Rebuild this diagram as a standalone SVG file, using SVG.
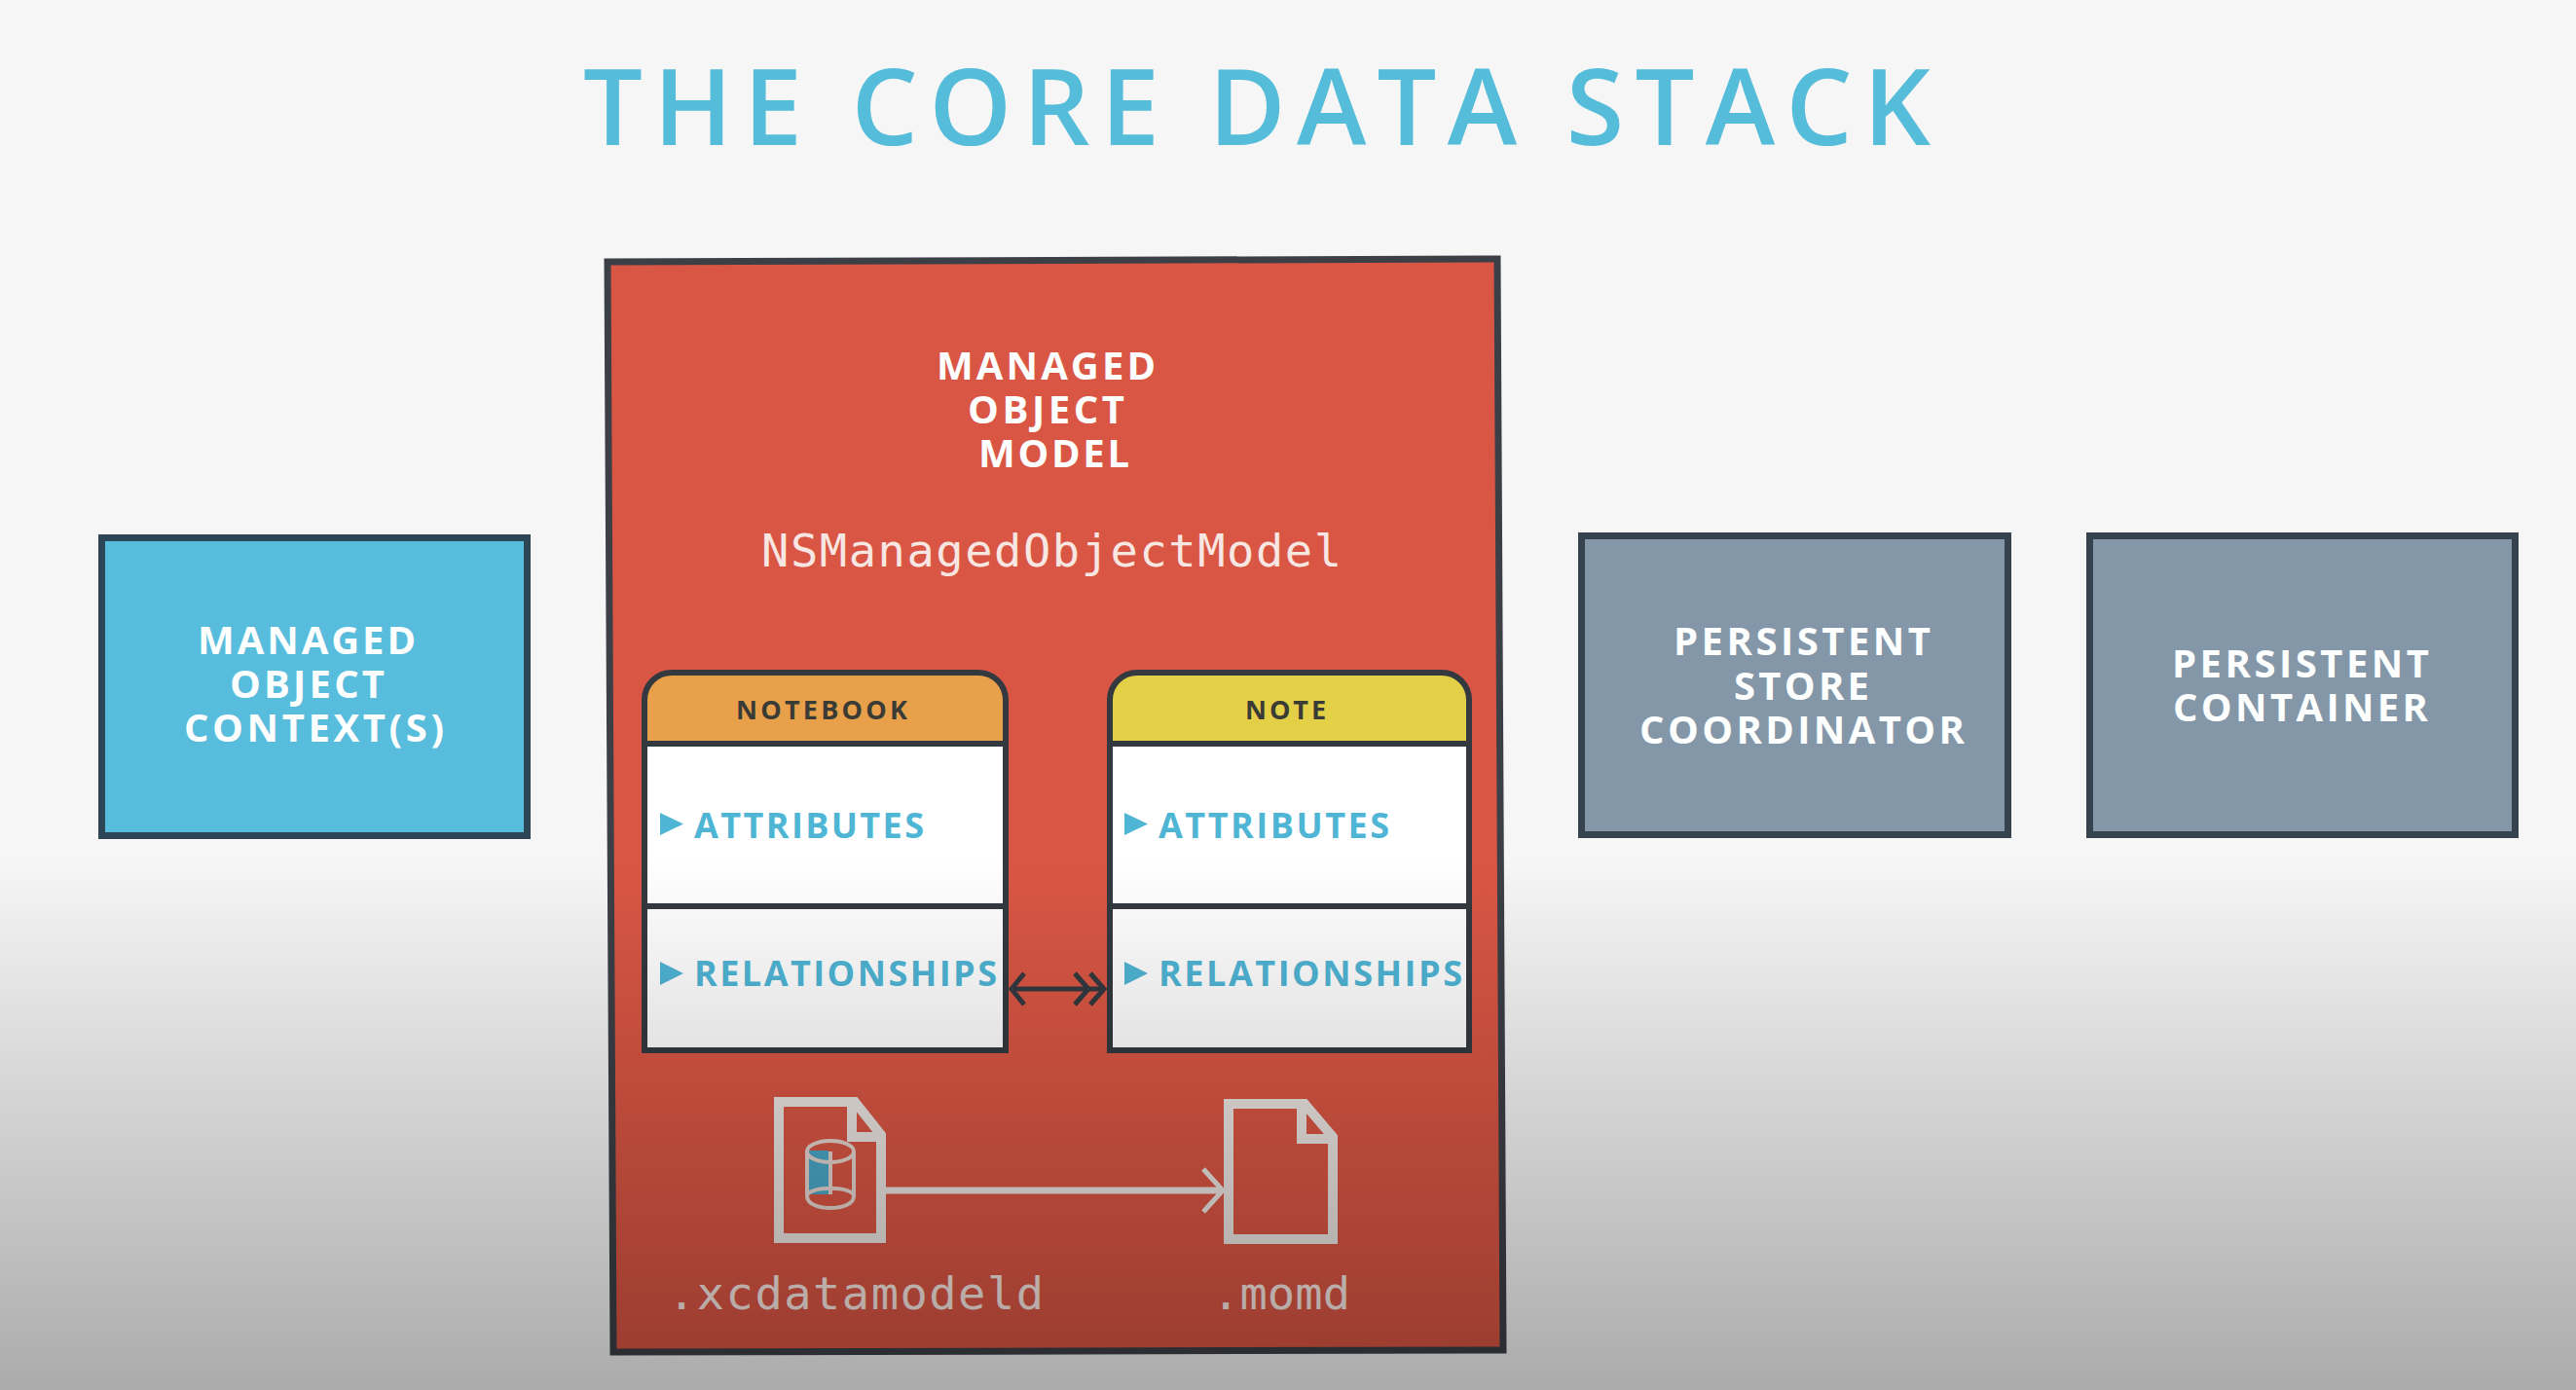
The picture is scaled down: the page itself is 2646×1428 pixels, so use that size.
<svg xmlns="http://www.w3.org/2000/svg" width="2646" height="1428" viewBox="0 0 2646 1428">
<style>
text{font-family:"Open Sans","Liberation Sans",sans-serif}
.t{fill:#fdfefe;font-size:40px;font-weight:700}
.mono{font-family:"DejaVu Sans Mono","Liberation Mono",monospace;fill:#f7e6e2;font-size:47px}
.hdr{fill:#3b3b36;font-size:27px;font-weight:700}
.item{fill:#4fb5d5;font-size:36px;font-weight:700}
.box{stroke-width:7}
.card{stroke:#33393f;stroke-width:6}
.file{fill:none;stroke:#ece6e2;stroke-width:10}
.blue{fill:#58bcdc;stroke:#2c4656}
.gray{fill:#8497a9;stroke:#36434f}
.tri{fill:#4fb5d5}
.conn{fill:none}
</style>
<defs>
<linearGradient id="shade" x1="0" y1="0" x2="0" y2="1"><stop offset="0" stop-color="#000" stop-opacity="0"/><stop offset="1" stop-color="#000" stop-opacity="0.305"/></linearGradient>
<marker id="openEnd" markerUnits="userSpaceOnUse" markerWidth="30" markerHeight="60" refX="24" refY="30" orient="auto"><path d="M4,8 L24,30 L4,52" fill="none" stroke="#ece6e2" stroke-width="5"/></marker>
<marker id="darkStart" markerUnits="userSpaceOnUse" markerWidth="24" markerHeight="44" refX="3" refY="22" orient="auto"><path d="M16,6 L3,22 L16,38" fill="none" stroke="#33393f" stroke-width="5"/></marker>
<marker id="darkEnd" markerUnits="userSpaceOnUse" markerWidth="40" markerHeight="44" refX="36" refY="22" orient="auto"><path d="M6,6 L20,22 L6,38 M22,6 L36,22 L22,38" fill="none" stroke="#33393f" stroke-width="5"/></marker>
</defs>
<rect id="background" width="2646" height="1428" fill="#f6f6f6"/>
<text id="title" x="599" y="149" textLength="1384" lengthAdjust="spacing" font-size="108" font-weight="600" fill="#55bcd9">THE CORE DATA STACK</text>

<g id="managed-object-context">
<rect class="box blue" x="104.5" y="552.5" width="437" height="306"/>
<text class="t" x="203" y="672" textLength="224">MANAGED</text>
<text class="t" x="236" y="717" textLength="159">OBJECT</text>
<text class="t" x="189" y="762" textLength="267">CONTEXT(S)</text>
</g>

<g id="managed-object-model">
<polygon points="624,269 1538,266 1544,1387 630,1389" fill="#da5644" stroke="#3c3f46" stroke-width="7"/>
<text class="t" x="962" y="390" textLength="225">MANAGED</text>
<text class="t" x="994" y="435" textLength="161">OBJECT</text>
<text class="t" x="1005" y="480" textLength="155">MODEL</text>
<text class="mono" x="782" y="582" textLength="596">NSManagedObjectModel</text>
</g>

<g id="entity-notebook">
<rect class="card" x="662" y="760" width="371" height="319" fill="#fff"/>
<path class="card" d="M662,764 V719 a28,28 0 0 1 28,-28 H1005 a28,28 0 0 1 28,28 V764 Z" fill="#e9a04a"/>
<path class="card" d="M662,931 H1033" fill="none"/>
<text class="hdr" x="756" y="739" textLength="176">NOTEBOOK</text>
<path class="tri" d="M678,835 L702,846.500 L678,858 Z"/>
<text class="item" x="713" y="861" textLength="236">ATTRIBUTES</text>
<path class="tri" d="M678,988 L702,1000 L678,1012 Z"/>
<text class="item" x="713" y="1013" textLength="311">RELATIONSHIPS</text>
</g>

<g id="entity-note">
<rect class="card" x="1140" y="760" width="369" height="319" fill="#fff"/>
<path class="card" d="M1140,764 V719 a28,28 0 0 1 28,-28 H1481 a28,28 0 0 1 28,28 V764 Z" fill="#e4d046"/>
<path class="card" d="M1140,931 H1509" fill="none"/>
<text class="hdr" x="1279" y="739" textLength="83">NOTE</text>
<path class="tri" d="M1155,835 L1179,846.500 L1155,858 Z"/>
<text class="item" x="1190" y="861" textLength="237">ATTRIBUTES</text>
<path class="tri" d="M1155,988 L1179,1000 L1155,1012 Z"/>
<text class="item" x="1190" y="1013" textLength="312">RELATIONSHIPS</text>
</g>

<g id="file-xcdatamodeld">
<path class="file" d="M800,1132 H878 L905,1166 V1272 H800 Z"/>
<path class="file" d="M875,1132 V1168 H905" stroke-width="9"/>
<path d="M831,1182 H851 V1227 H831 Z" fill="#4aa9c9"/>
<g fill="none" stroke="#e6d6d0" stroke-width="4">
<ellipse cx="853" cy="1183" rx="24" ry="11"/>
<path d="M829,1183 V1229 C829,1245 877,1245 877,1229 V1183"/>
<path d="M829,1229 C829,1218 877,1218 877,1229"/>
<path d="M853,1183 V1227"/>
</g>
<text class="mono" x="686" y="1345" textLength="386">.xcdatamodeld</text>
</g>

<g id="file-momd">
<path class="file" d="M1262,1134 H1340 L1369,1168 V1273 H1262 Z"/>
<path class="file" d="M1337,1134 V1170 H1369" stroke-width="9"/>
<text class="mono" x="1245" y="1345" textLength="142">.momd</text>
</g>

<g id="persistent-store-coordinator">
<rect class="box gray" x="1624.500" y="550.500" width="438" height="307"/>
<text class="t" x="1719" y="673" textLength="264" font-weight="600">PERSISTENT</text>
<text class="t" x="1781" y="719" textLength="139" font-weight="600">STORE</text>
<text class="t" x="1684" y="764" textLength="334" font-weight="600">COORDINATOR</text>
</g>

<g id="persistent-container">
<rect class="box gray" x="2146.500" y="550.500" width="437" height="307"/>
<text class="t" x="2231" y="696" textLength="264" font-weight="600">PERSISTENT</text>
<text class="t" x="2232" y="741" textLength="262" font-weight="600">CONTAINER</text>
</g>

<g id="connectors" class="conn">
<path d="M1039,1016 H1134" stroke="#33393f" stroke-width="5" marker-start="url(#darkStart)" marker-end="url(#darkEnd)"/>
<path d="M910,1223 H1256" stroke="#ece6e2" stroke-width="7" marker-end="url(#openEnd)"/>
</g>

<rect id="shade-overlay" x="0" y="880" width="2646" height="548" fill="url(#shade)"/>
</svg>
